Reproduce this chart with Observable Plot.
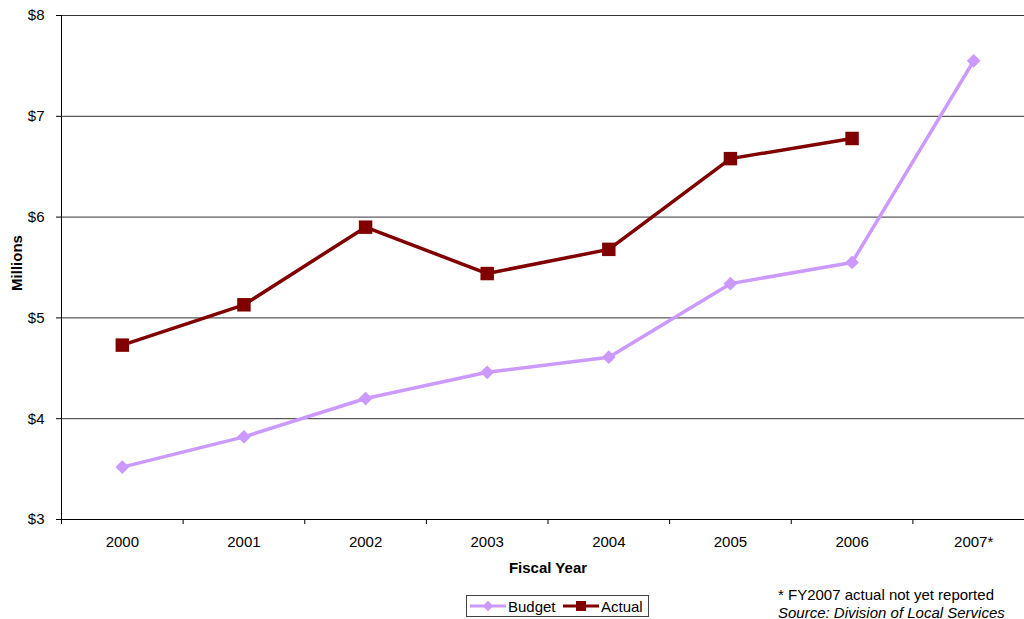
<!DOCTYPE html>
<html>
<head>
<meta charset="utf-8">
<script src="https://cdn.jsdelivr.net/npm/d3@7"></script>
<script src="https://cdn.jsdelivr.net/npm/@observablehq/plot@0.6"></script>
<style>
  html, body { margin: 0; padding: 0; background: #fff; overflow: hidden; }
  #wrap { position: relative; width: 1024px; height: 619px; font-family: "Liberation Sans", Arial, sans-serif; color: #000; }
  #wrap svg { position: absolute; left: 0; top: 0; overflow: visible; }
  .lbl { position: absolute; font-size: 15px; font-weight: bold; white-space: nowrap; line-height: 1; }
  #ylabel { left: 16px; top: 263px; transform: translate(-50%, -50%) rotate(-90deg); }
  #xlabel { left: 548px; top: 567px; transform: translate(-50%, -50%); }
  #legend { position: absolute; left: 466px; top: 595px; width: 183px; height: 22px; border: 1px solid #444; box-sizing: border-box; font-size: 15px; }
  #legend svg { position: absolute; left: 0; top: 0; }
  #note { position: absolute; left: 778px; top: 586px; font-size: 15px; line-height: 18px; white-space: nowrap; }
</style>
</head>
<body>
<div id="wrap">
  <div id="ylabel" class="lbl">Millions</div>
  <div id="xlabel" class="lbl">Fiscal Year</div>
  <div id="legend"></div>
  <div id="note">* FY2007 actual not yet reported<br><i>Source: Division of Local Services</i></div>
</div>
<script>
const years = ["2000", "2001", "2002", "2003", "2004", "2005", "2006", "2007*"];
const budget = [3.52, 3.82, 4.20, 4.46, 4.61, 5.34, 5.55, 7.55];
const actual = [4.73, 5.13, 5.90, 5.44, 5.68, 6.58, 6.78];
const yTicks = [3, 4, 5, 6, 7, 8];

const budgetColor = "#CC99FF";
const actualColor = "#800000";

const budgetData = budget.map((v, i) => ({i, v}));
const actualData = actual.map((v, i) => ({i, v}));
const boundaries = d3.range(0, years.length + 1).map(k => k - 0.5);

const chart = Plot.plot({
  width: 1024,
  height: 619,
  marginTop: 15,
  marginBottom: 100,
  marginLeft: 61,
  marginRight: 0,
  style: {fontFamily: "'Liberation Sans', Arial, sans-serif", fontSize: "15px", color: "#000", background: "transparent"},
  x: {type: "linear", domain: [-0.5, years.length - 0.5], range: [61, 1034]},
  y: {domain: [3, 8]},
  marks: [
    Plot.ruleY(yTicks.slice(1), {stroke: "#333", strokeWidth: 1}),
    Plot.axisY({ticks: yTicks, tickFormat: d => "$" + d, tickSize: 5, tickPadding: 12, label: null, stroke: "#000", strokeOpacity: 1, fontSize: 15}),
    Plot.axisX({ticks: boundaries, tickFormat: () => "", tickSize: 5, label: null, strokeOpacity: 1}),
    Plot.axisX({ticks: d3.range(years.length), tickFormat: i => years[i], tickSize: 0, tickPadding: 17, label: null, fontSize: 15}),
    Plot.ruleX([-0.5], {stroke: "#000", strokeWidth: 1}),
    Plot.ruleY([3], {stroke: "#000", strokeWidth: 1}),
    Plot.line(budgetData, {x: "i", y: "v", stroke: budgetColor, strokeWidth: 3.5}),
    Plot.dot(budgetData, {x: "i", y: "v", symbol: "diamond2", r: 6.2, fill: budgetColor, stroke: "none"}),
    Plot.line(actualData, {x: "i", y: "v", stroke: actualColor, strokeWidth: 3.5}),
    Plot.dot(actualData, {x: "i", y: "v", symbol: "square", r: 7.6, fill: actualColor, stroke: "none"})
  ]
});
document.getElementById("wrap").prepend(chart);

// Legend
const lg = d3.select("#legend").append("svg").attr("width", 183).attr("height", 21);
const items = [
  {name: "Budget", color: budgetColor, sym: d3.symbolDiamond2, size: 70, x0: 3},
  {name: "Actual", color: actualColor, sym: d3.symbolSquare, size: 100, x0: 96}
];
items.forEach(it => {
  const g = lg.append("g");
  g.append("line").attr("x1", it.x0).attr("x2", it.x0 + 36).attr("y1", 10).attr("y2", 10).attr("stroke", it.color).attr("stroke-width", 3);
  g.append("path").attr("d", d3.symbol(it.sym, it.size)()).attr("transform", `translate(${it.x0 + 18},10)`).attr("fill", it.color);
  g.append("text").attr("x", it.x0 + 38).attr("y", 15.5).attr("font-size", 15).attr("font-family", "'Liberation Sans', Arial, sans-serif").text(it.name);
});
</script>
</body>
</html>
